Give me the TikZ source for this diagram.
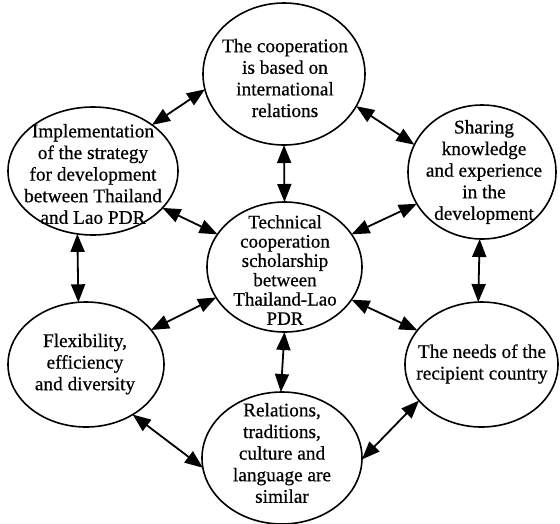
\documentclass[tikz,border=0pt]{standalone}
\usepackage{fontspec}
\setmainfont{Liberation Serif}[FakeBold=0.6]
\usetikzlibrary{shapes.geometric,arrows.meta}
\tikzset{
  ell/.style={ellipse, draw, line width=1.6pt, inner sep=0pt, outer sep=0pt},
  txt/.style={align=center, inner sep=0pt, font=\fontsize{19.3}{21.6}\selectfont},
  txtc/.style={align=center, inner sep=0pt, font=\fontsize{19}{19.3}\selectfont},
  dbl/.style={arrows={Triangle[length=18pt,width=14pt]-Triangle[length=18pt,width=14pt]}, line width=1.8pt},
}
\begin{document}
\begin{tikzpicture}[x=1pt,y=-1pt]
\useasboundingbox (0,0) rectangle (560,523);
% ellipses
\node[ell, minimum width=162pt, minimum height=142pt] (top) at (284,74) {};
\node[ell, minimum width=170pt, minimum height=128pt] (impl) at (93,171) {};
\node[ell, minimum width=148pt, minimum height=134pt] (share) at (482,172) {};
\node[ell, minimum width=155pt, minimum height=130pt] (cen) at (284.5,267) {};
\node[ell, minimum width=156pt, minimum height=125pt] (flex) at (86,364.5) {};
\node[ell, minimum width=153pt, minimum height=125pt] (needs) at (481.5,364.5) {};
\node[ell, minimum width=160pt, minimum height=132pt] (rel) at (282,458) {};
% texts
\node[txt] (topt) at (285,78) {The cooperation\\is based on\\international\\relations};
\node[txt] (implt) at (93,174) {Implementation\\of the strategy\\for development\\between Thailand\\and Lao PDR};
\node[txt] (sharet) at (484,172) {Sharing\\knowledge\\and experience\\in the\\development};
\node[txtc] (cent) at (285,270) {Technical\\cooperation\\scholarship\\between\\Thailand-Lao\\PDR};
\node[txt] (flext) at (85,364) {Flexibility,\\efficiency\\and diversity};
\node[txt] (needst) at (482,364) {The needs of the\\recipient country};
\node[txt] (relt) at (282,453) {Relations,\\traditions,\\culture and\\language are\\similar};
% connectors
\draw[dbl] (impl.38) -- (top.191);
\draw[dbl] (impl.332) -- (cen.154);
\draw[dbl] (impl.256) -- (flex.97);
\draw[dbl] (top.south) -- (cen.north);
\draw[dbl] (top.336) -- (share.158);
\draw[dbl] (share.206) -- (cen.26);
\draw[dbl] (share.268) -- (needs.93);
\draw[dbl] (cen.204) -- (flex.28);
\draw[dbl] (cen.334) -- (needs.152);
\draw[dbl] (cen.south) -- (rel.91);
\draw[dbl] (flex.313) -- (rel.187);
\draw[dbl] (rel.359) -- (needs.210);
\end{tikzpicture}
\end{document}
